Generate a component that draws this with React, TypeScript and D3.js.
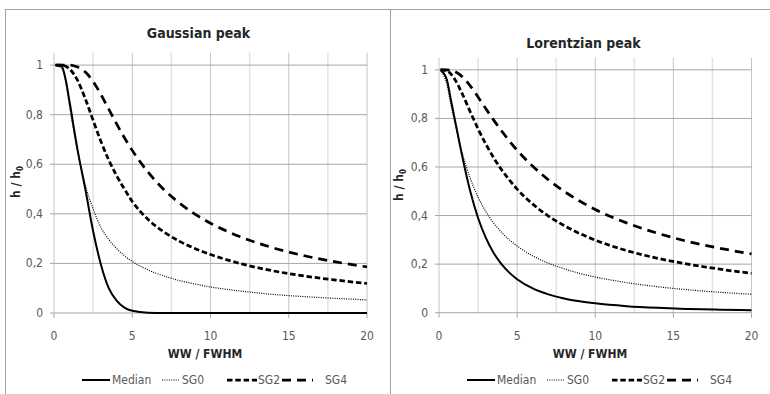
import React from "react";
import * as d3 from "d3";

// ---- data ----
const wwValues = [0.1, 0.5, 0.75, 1, 1.5, 2, 2.5, 3, 3.5, 4, 4.5, 5, 6, 7, 8, 9, 10, 12, 14, 16, 18, 20];

const gaussMedian = [1, 0.995, 0.94, 0.85, 0.66, 0.5, 0.33, 0.195, 0.1, 0.05, 0.022, 0.009, 0.001, 0, 0, 0, 0, 0, 0, 0, 0, 0];
const gaussSG0 = [1, 0.985, 0.93, 0.83, 0.655, 0.515, 0.42, 0.345, 0.297, 0.26, 0.231, 0.208, 0.174, 0.15, 0.131, 0.117, 0.105, 0.088, 0.075, 0.066, 0.059, 0.053];
const gaussSG2 = [1, 1, 0.995, 0.984, 0.939, 0.864, 0.777, 0.692, 0.617, 0.554, 0.5, 0.45, 0.378, 0.328, 0.29, 0.26, 0.236, 0.198, 0.17, 0.149, 0.133, 0.119];
const gaussSG4 = [1, 1, 1, 1, 0.992, 0.972, 0.934, 0.881, 0.822, 0.763, 0.707, 0.656, 0.569, 0.499, 0.444, 0.399, 0.362, 0.305, 0.263, 0.231, 0.206, 0.186];

const lorMedian = [1, 0.96, 0.88, 0.8, 0.64, 0.5, 0.39, 0.308, 0.246, 0.2, 0.165, 0.138, 0.1, 0.0755, 0.0588, 0.047, 0.0385, 0.027, 0.02, 0.0154, 0.0122, 0.0099];
const lorSG0 = [1, 0.94, 0.86, 0.785, 0.655, 0.554, 0.476, 0.416, 0.369, 0.331, 0.3, 0.275, 0.234, 0.204, 0.181, 0.162, 0.147, 0.124, 0.107, 0.094, 0.084, 0.076];
const lorSG2 = [1, 0.996, 0.984, 0.962, 0.9, 0.827, 0.757, 0.694, 0.638, 0.589, 0.547, 0.509, 0.447, 0.398, 0.359, 0.326, 0.299, 0.256, 0.224, 0.199, 0.179, 0.162];
const lorSG4 = [1, 1, 0.998, 0.993, 0.971, 0.934, 0.888, 0.84, 0.793, 0.749, 0.707, 0.669, 0.603, 0.547, 0.5, 0.46, 0.425, 0.37, 0.327, 0.292, 0.265, 0.242];

const seriesNames = ["Median", "SG0", "SG2", "SG4"];
const xTicks = [0, 5, 10, 15, 20];
const xGrid = [0, 2.5, 5, 7.5, 10, 12.5, 15, 17.5, 20];
const yTicks = [0, 0.2, 0.4, 0.6, 0.8, 1];
const panelTitles = ["Gaussian peak", "Lorentzian peak"];
const xAxisTitle = "WW / FWHM";

// ---- styles ----
const FONT = "'Liberation Sans Narrow', 'DejaVu Sans Condensed', 'Roboto Condensed', 'Open Sans', sans-serif";
const styles: Record<string, { w: number; dash?: string }> = {
  Median: { w: 2 },
  SG0: { w: 1.2, dash: "1 1.3" },
  SG2: { w: 2.75, dash: "5.5 2.8" },
  SG4: { w: 2.75, dash: "9 6" },
};

const panels = [
  {
    title: panelTitles[0],
    series: [gaussMedian, gaussSG0, gaussSG2, gaussSG4],
    x0: 54, x1: 367, yTop: 52.7, yBottom: 313,
    titleX: 198.5, titleY: 38, xTitleX: 205, yTitleX: 20, yTitleY: 182, off: 0,
  },
  {
    title: panelTitles[1],
    series: [lorMedian, lorSG0, lorSG2, lorSG4],
    x0: 439, x1: 751.5, yTop: 57.7, yBottom: 312.7,
    titleX: 583.5, titleY: 48, xTitleX: 590, yTitleX: 403, yTitleY: 185, off: 385,
  },
];

const legendPos = [
  { l1: 82, l2: 110, t: 112 },
  { l1: 162, l2: 179, t: 182 },
  { l1: 227, l2: 257, t: 258 },
  { l1: 282, l2: 313, t: 325 },
];

const fmt = (v: number) => (v === 0 || v === 1 ? String(v) : String(v).replace(".", ","));

function Panel({ p }: { p: (typeof panels)[number] }) {
  const x = d3.scaleLinear().domain([0, 20]).range([p.x0, p.x1]);
  const y = d3.scaleLinear().domain([0, 1.05]).range([p.yBottom, p.yTop]);
  const line = d3
    .line<number>()
    .x((_, i) => x(wwValues[i]))
    .y((d) => y(d))
    .curve(d3.curveMonotoneX);
  return (
    <g>
      {xGrid.map((g) => (
        <line
          key={"vg" + g}
          x1={x(g)} x2={x(g)} y1={p.yTop} y2={y(0)}
          stroke={g % 5 === 0 ? "#c4c4c4" : "#e2e2e2"}
          strokeWidth={g % 5 === 0 ? 1 : 1.5}
        />
      ))}
      {xTicks.map((t) => (
        <line key={"xt" + t} x1={x(t)} x2={x(t)} y1={y(0)} y2={y(0) + 5} stroke="#a6a6a6" />
      ))}
      {yTicks.map((t) => (
        <line key={"hg" + t} x1={x(0) - 4} x2={x(20)} y1={y(t)} y2={y(t)} stroke="#a6a6a6" strokeWidth={1} />
      ))}
      {yTicks.map((t) => (
        <text key={"yl" + t} x={x(0) - 11} y={y(t) + 4} textAnchor="end" fontSize={12} fill="#595959" fontFamily={FONT}>
          {fmt(t)}
        </text>
      ))}
      {xTicks.map((t) => (
        <text key={"xl" + t} x={x(t)} y={y(0) + 27} textAnchor="middle" fontSize={12} fill="#595959" fontFamily={FONT}>
          {t}
        </text>
      ))}
      {p.series.map((s, i) => {
        const st = styles[seriesNames[i]];
        return (
          <path
            key={"s" + i}
            d={line(s) || ""}
            fill="none"
            stroke="#000"
            strokeWidth={st.w}
            strokeDasharray={st.dash}
          />
        );
      })}
      <text x={p.titleX} y={p.titleY} textAnchor="middle" fontSize={14} fill="#262626" fontWeight={600} fontFamily={FONT}>
        {p.title}
      </text>
      <text x={p.xTitleX} y={358} textAnchor="middle" fontSize={12} fill="#262626" fontWeight="bold" fontFamily={FONT}>
        {xAxisTitle}
      </text>
      <text
        transform={`translate(${p.yTitleX},${p.yTitleY}) rotate(-90)`}
        textAnchor="middle"
        fontSize={12}
        fill="#262626"
        fontWeight="bold"
        fontFamily={FONT}
      >
        h / h
        <tspan fontSize={8} dy={3}>0</tspan>
      </text>
      {seriesNames.map((n, i) => {
        const lp = legendPos[i];
        const st = styles[n];
        return (
          <g key={"lg" + n}>
            <line
              x1={p.off + lp.l1} x2={p.off + lp.l2} y1={380} y2={380}
              stroke="#000" strokeWidth={st.w} strokeDasharray={st.dash}
            />
            <text x={p.off + lp.t} y={384} fontSize={12} fill="#595959" fontFamily={FONT}>
              {n}
            </text>
          </g>
        );
      })}
    </g>
  );
}

export default function App() {
  return (
    <svg
      width={770}
      height={394}
      style={{ position: "absolute", left: 0, top: 0, background: "#fff" }}
    >
      <rect x={0} y={0} width={770} height={394} fill="#fff" />
      <line x1={5} x2={770} y1={9.5} y2={9.5} stroke="#a0a0a0" />
      <line x1={5.5} x2={5.5} y1={9} y2={394} stroke="#a0a0a0" />
      <line x1={390.5} x2={390.5} y1={9} y2={394} stroke="#a0a0a0" />
      {panels.map((p) => (
        <Panel key={p.title} p={p} />
      ))}
    </svg>
  );
}
